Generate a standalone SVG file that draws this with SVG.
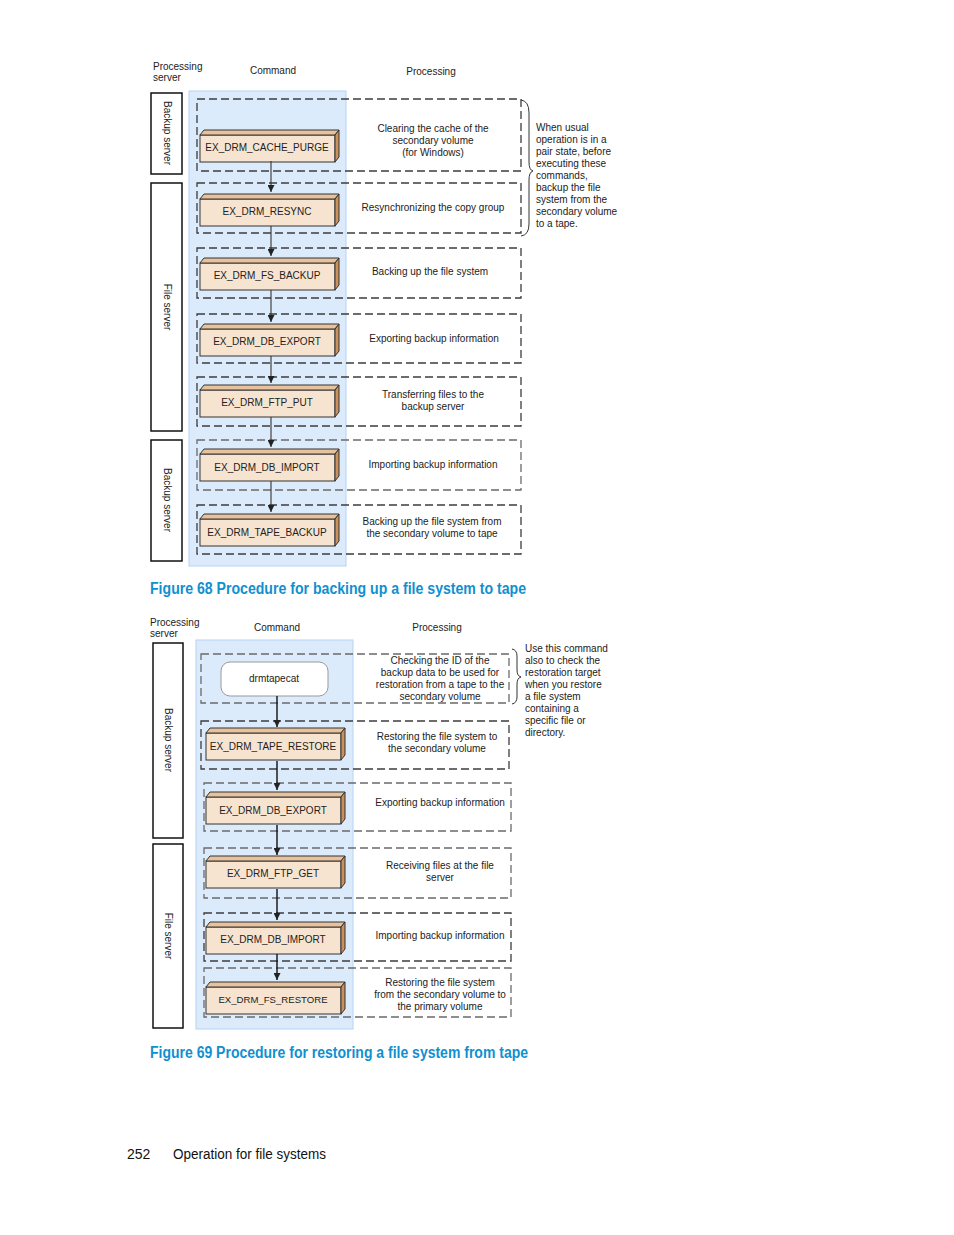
<svg xmlns="http://www.w3.org/2000/svg" xmlns:xlink="http://www.w3.org/1999/xlink" width="954" height="1235" viewBox="0 0 954 1235">
<style>
text{font-family:"Liberation Sans",Arial,sans-serif;fill:#222;}
.t{font-size:10px;}
.c{text-anchor:middle;}
.side{font-size:10px;text-anchor:middle;dominant-baseline:central;}
.bar{fill:#fff;stroke:#111;stroke-width:1.5;}
.bg{fill:#dcebfc;stroke:#b5d3f3;stroke-width:1;}
.dash{fill:none;stroke:#3c3c3c;stroke-width:1.3;stroke-dasharray:8,4;}
.dashg{fill:none;stroke:#6a6a6a;stroke-width:1.3;stroke-dasharray:8,4;}
.cap{font-size:16px;font-weight:bold;fill:#1090cf;}
.foot{font-size:14px;fill:#111;}
.arr{stroke:#333;stroke-width:1.1;fill:none;}
.arr2{stroke:#111;stroke-width:1.4;fill:none;}
.brace{fill:none;stroke:#333;stroke-width:1;}
</style>
<defs>
<g id="box3d">
<rect x="0" y="5" width="135" height="27" fill="#f7e4d0" stroke="#333" stroke-width="1"/>
<polygon points="0,5 4,0 139,0 135,5" fill="#e8c29c" stroke="#333" stroke-width="1"/>
<polygon points="135,5 139,0 139,27 135,32" fill="#c8915f" stroke="#333" stroke-width="1"/>
</g>
<marker id="ah" viewBox="0 0 10 10" refX="10" refY="5" markerWidth="7" markerHeight="7" markerUnits="userSpaceOnUse" orient="auto">
<path d="M0,0 L10,5 L0,10 z" fill="#222"/>
</marker>
</defs>
<rect width="954" height="1235" fill="#fff"/>

<!-- ================= Figure 68 ================= -->
<g id="fig68-headers">
<text class="t" x="153" y="70">Processing</text>
<text class="t" x="153" y="81">server</text>
<text class="t c" x="273" y="74">Command</text>
<text class="t c" x="431" y="75">Processing</text>
</g>
<rect id="fig68-bg" class="bg" x="189" y="91" width="157" height="475"/>
<g id="fig68-bar1"><rect class="bar" x="151" y="93" width="31" height="81"/><text class="side" transform="translate(167,133) rotate(90)">Backup server</text></g>
<g id="fig68-bar2"><rect class="bar" x="151" y="183" width="31" height="248"/><text class="side" transform="translate(167,307) rotate(90)">File server</text></g>
<g id="fig68-bar3"><rect class="bar" x="151" y="440" width="31" height="121"/><text class="side" transform="translate(167,500) rotate(90)">Backup server</text></g>

<g id="fig68-step1">
<rect class="dash" x="197" y="99" width="324" height="72"/>
<use xlink:href="#box3d" x="200" y="130"/>
<text class="t c" x="267" y="151">EX_DRM_CACHE_PURGE</text>
<text class="t c" x="433" y="131.5">Clearing the cache of the</text>
<text class="t c" x="433" y="143.5">secondary volume</text>
<text class="t c" x="433" y="155.5">(for Windows)</text>
</g>
<g id="fig68-step2">
<rect class="dash" x="197" y="183" width="324" height="50"/>
<use xlink:href="#box3d" x="200" y="194"/>
<text class="t c" x="267" y="215">EX_DRM_RESYNC</text>
<text class="t c" x="433" y="211">Resynchronizing the copy group</text>
</g>
<g id="fig68-step3">
<rect class="dash" x="197" y="248" width="324" height="50"/>
<use xlink:href="#box3d" x="200" y="258"/>
<text class="t c" x="267" y="279">EX_DRM_FS_BACKUP</text>
<text class="t c" x="430" y="275">Backing up the file system</text>
</g>
<g id="fig68-step4">
<rect class="dash" x="197" y="314" width="324" height="49"/>
<use xlink:href="#box3d" x="200" y="324"/>
<text class="t c" x="267" y="345">EX_DRM_DB_EXPORT</text>
<text class="t c" x="434" y="342">Exporting backup information</text>
</g>
<g id="fig68-step5">
<rect class="dash" x="197" y="377" width="324" height="49"/>
<use xlink:href="#box3d" x="200" y="385"/>
<text class="t c" x="267" y="406">EX_DRM_FTP_PUT</text>
<text class="t c" x="433" y="398">Transferring files to the</text>
<text class="t c" x="433" y="410">backup server</text>
</g>
<g id="fig68-step6">
<rect class="dashg" x="197" y="440" width="324" height="50"/>
<use xlink:href="#box3d" x="200" y="449"/>
<text class="t c" x="267" y="471">EX_DRM_DB_IMPORT</text>
<text class="t c" x="433" y="468">Importing backup information</text>
</g>
<g id="fig68-step7">
<rect class="dash" x="197" y="505" width="324" height="49"/>
<use xlink:href="#box3d" x="200" y="514"/>
<text class="t c" x="267" y="536">EX_DRM_TAPE_BACKUP</text>
<text class="t c" x="432" y="525">Backing up the file system from</text>
<text class="t c" x="432" y="537">the secondary volume to tape</text>
</g>
<g id="fig68-connectors">
<line class="arr" x1="271" y1="161" x2="271" y2="192" marker-end="url(#ah)"/>
<line class="arr" x1="271" y1="226" x2="271" y2="256" marker-end="url(#ah)"/>
<line class="arr" x1="271" y1="290" x2="271" y2="322" marker-end="url(#ah)"/>
<line class="arr" x1="271" y1="356" x2="271" y2="383" marker-end="url(#ah)"/>
<line class="arr" x1="271" y1="417" x2="271" y2="447" marker-end="url(#ah)"/>
<line class="arr" x1="271" y1="481" x2="271" y2="512" marker-end="url(#ah)"/>
</g>
<g id="fig68-note">
<path class="brace" d="M521,100 Q529,101 529,113 L529,162 Q529,170 533,171 Q529,172 529,180 L529,224 Q529,235 521,236"/>
<text class="t" x="536" y="131">When usual</text>
<text class="t" x="536" y="143">operation is in a</text>
<text class="t" x="536" y="155">pair state, before</text>
<text class="t" x="536" y="167">executing these</text>
<text class="t" x="536" y="179">commands,</text>
<text class="t" x="536" y="191">backup the file</text>
<text class="t" x="536" y="203">system from the</text>
<text class="t" x="536" y="215">secondary volume</text>
<text class="t" x="536" y="227">to a tape.</text>
</g>
<text id="fig68-caption" class="cap" x="150" y="594" textLength="376" lengthAdjust="spacingAndGlyphs">Figure 68 Procedure for backing up a file system to tape</text>

<!-- ================= Figure 69 ================= -->
<g id="fig69-headers">
<text class="t" x="150" y="626">Processing</text>
<text class="t" x="150" y="637">server</text>
<text class="t c" x="277" y="631">Command</text>
<text class="t c" x="437" y="631">Processing</text>
</g>
<rect id="fig69-bg" class="bg" x="196" y="640" width="157" height="389"/>
<g id="fig69-bar1"><rect class="bar" x="153" y="643" width="30" height="195"/><text class="side" transform="translate(168,740) rotate(90)">Backup server</text></g>
<g id="fig69-bar2"><rect class="bar" x="153" y="844" width="30" height="184"/><text class="side" transform="translate(168,936) rotate(90)">File server</text></g>

<g id="fig69-step1">
<rect class="dashg" x="201" y="654" width="308" height="49"/>
<rect x="221" y="662" width="107" height="34" rx="9" fill="#fff" stroke="#999" stroke-width="1"/>
<text class="t c" x="274" y="682">drmtapecat</text>
<text class="t c" x="440" y="664">Checking the ID of the</text>
<text class="t c" x="440" y="676">backup data to be used for</text>
<text class="t c" x="440" y="688">restoration from a tape to the</text>
<text class="t c" x="440" y="700">secondary volume</text>
</g>
<g id="fig69-step2">
<rect class="dash" x="201" y="721" width="308" height="48"/>
<use xlink:href="#box3d" x="206" y="728"/>
<text class="t c" x="273" y="750">EX_DRM_TAPE_RESTORE</text>
<text class="t c" x="437" y="740">Restoring the file system to</text>
<text class="t c" x="437" y="752">the secondary volume</text>
</g>
<g id="fig69-step3">
<rect class="dashg" x="204" y="783" width="307" height="48"/>
<use xlink:href="#box3d" x="206" y="792"/>
<text class="t c" x="273" y="814">EX_DRM_DB_EXPORT</text>
<text class="t c" x="440" y="806">Exporting backup information</text>
</g>
<g id="fig69-step4">
<rect class="dashg" x="204" y="848" width="307" height="50"/>
<use xlink:href="#box3d" x="206" y="856"/>
<text class="t c" x="273" y="877">EX_DRM_FTP_GET</text>
<text class="t c" x="440" y="869">Receiving files at the file</text>
<text class="t c" x="440" y="881">server</text>
</g>
<g id="fig69-step5">
<rect class="dash" x="204" y="913" width="307" height="48"/>
<use xlink:href="#box3d" x="206" y="922"/>
<text class="t c" x="273" y="943">EX_DRM_DB_IMPORT</text>
<text class="t c" x="440" y="939">Importing backup information</text>
</g>
<g id="fig69-step6">
<rect class="dashg" x="204" y="968" width="307" height="49"/>
<use xlink:href="#box3d" x="206" y="982"/>
<text class="t c" x="273" y="1003" style="font-size:9.6px">EX_DRM_FS_RESTORE</text>
<text class="t c" x="440" y="986">Restoring the file system</text>
<text class="t c" x="440" y="998">from the secondary volume to</text>
<text class="t c" x="440" y="1010">the primary volume</text>
</g>
<g id="fig69-connectors">
<line class="arr2" x1="277" y1="696" x2="277" y2="727" marker-end="url(#ah)"/>
<line class="arr2" x1="277" y1="761" x2="277" y2="790" marker-end="url(#ah)"/>
<line class="arr2" x1="277" y1="825" x2="277" y2="855" marker-end="url(#ah)"/>
<line class="arr2" x1="277" y1="889" x2="277" y2="920" marker-end="url(#ah)"/>
<line class="arr2" x1="277" y1="954" x2="277" y2="980" marker-end="url(#ah)"/>
</g>
<g id="fig69-note">
<path class="brace" d="M512,649 Q517,650 517,656 L517,670 Q517,676 521,677 Q517,678 517,684 L517,697 Q517,703 512,704"/>
<text class="t" x="525" y="652">Use this command</text>
<text class="t" x="525" y="664">also to check the</text>
<text class="t" x="525" y="676">restoration target</text>
<text class="t" x="525" y="688">when you restore</text>
<text class="t" x="525" y="700">a file system</text>
<text class="t" x="525" y="712">containing a</text>
<text class="t" x="525" y="724">specific file or</text>
<text class="t" x="525" y="736">directory.</text>
</g>
<text id="fig69-caption" class="cap" x="150" y="1058" textLength="378" lengthAdjust="spacingAndGlyphs">Figure 69 Procedure for restoring a file system from tape</text>

<g id="footer">
<text class="foot" x="127" y="1159">252</text>
<text class="foot" x="173" y="1159" textLength="153" lengthAdjust="spacingAndGlyphs">Operation for file systems</text>
</g>
</svg>
